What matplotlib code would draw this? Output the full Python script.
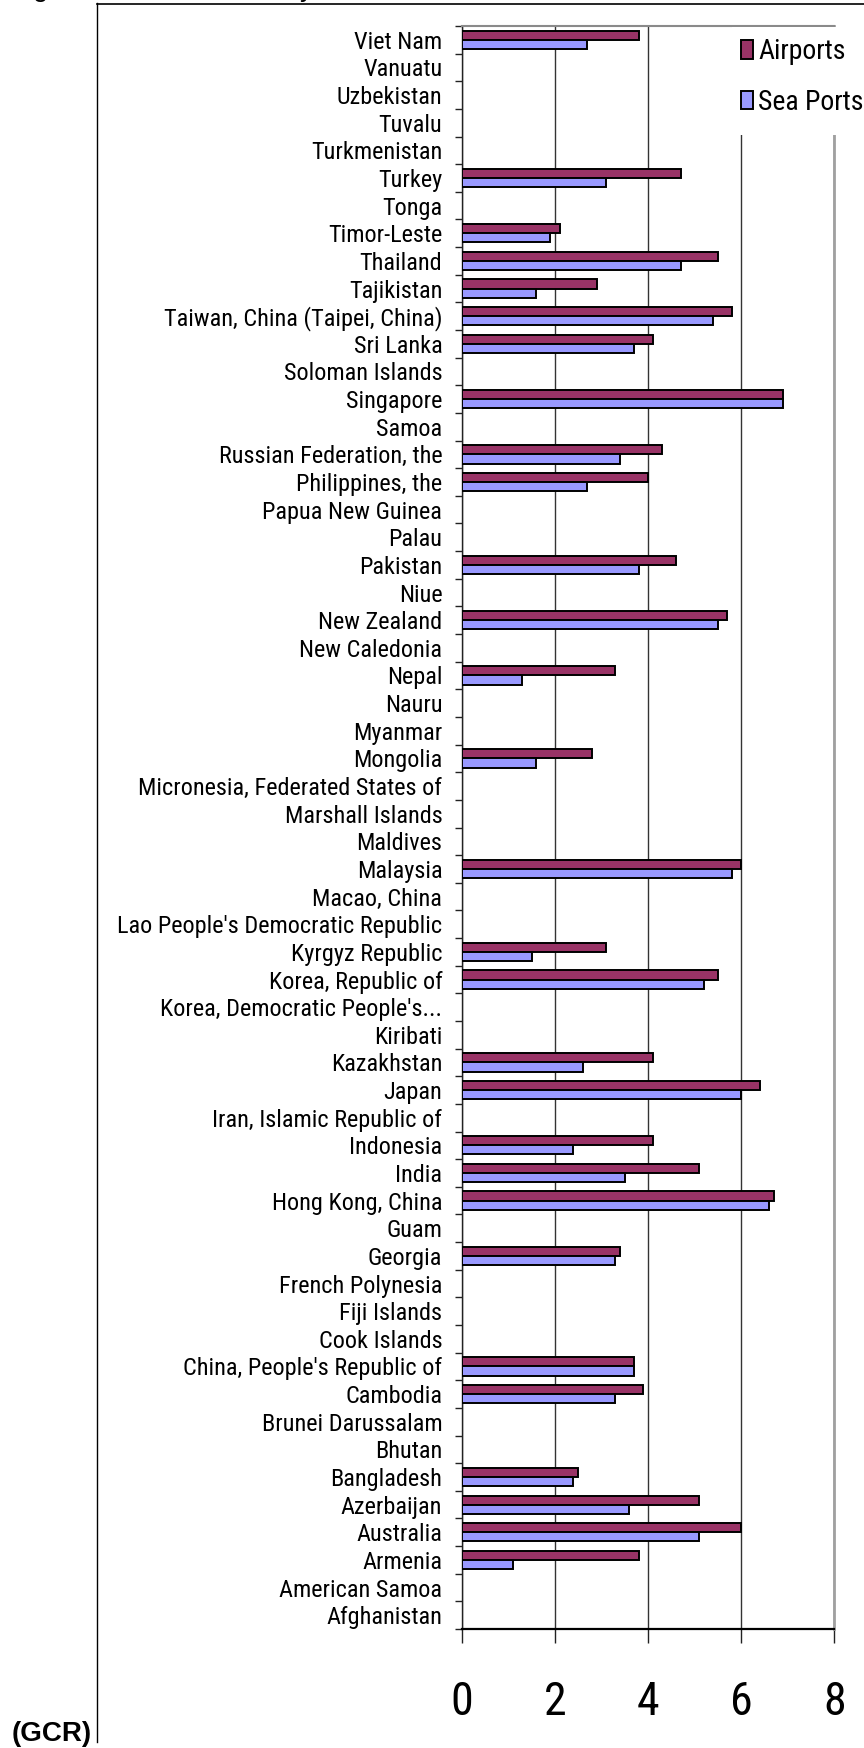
import matplotlib
matplotlib.use("Agg")
import matplotlib.pyplot as plt
import numpy as np
from matplotlib import font_manager as fm
from matplotlib.patches import Rectangle
from matplotlib.lines import Line2D

countries = [
    "Viet Nam", "Vanuatu", "Uzbekistan", "Tuvalu", "Turkmenistan", "Turkey", "Tonga",
    "Timor-Leste", "Thailand", "Tajikistan", "Taiwan, China (Taipei, China)", "Sri Lanka",
    "Soloman Islands", "Singapore", "Samoa", "Russian Federation, the", "Philippines, the",
    "Papua New Guinea", "Palau", "Pakistan", "Niue", "New Zealand", "New Caledonia", "Nepal",
    "Nauru", "Myanmar", "Mongolia", "Micronesia, Federated States of", "Marshall Islands",
    "Maldives", "Malaysia", "Macao, China", "Lao People's Democratic Republic",
    "Kyrgyz Republic", "Korea, Republic of", "Korea, Democratic People's...", "Kiribati",
    "Kazakhstan", "Japan", "Iran, Islamic Republic of", "Indonesia", "India",
    "Hong Kong, China", "Guam", "Georgia", "French Polynesia", "Fiji Islands", "Cook Islands",
    "China, People's Republic of", "Cambodia", "Brunei Darussalam", "Bhutan", "Bangladesh",
    "Azerbaijan", "Australia", "Armenia", "American Samoa", "Afghanistan",
]
nan = np.nan
airports = [
    3.8, nan, nan, nan, nan, 4.7, nan,
    2.1, 5.5, 2.9, 5.8, 4.1,
    nan, 6.9, nan, 4.3, 4.0,
    nan, nan, 4.6, nan, 5.7, nan, 3.3,
    nan, nan, 2.8, nan, nan,
    nan, 6.0, nan, nan,
    3.1, 5.5, nan, nan,
    4.1, 6.4, nan, 4.1, 5.1,
    6.7, nan, 3.4, nan, nan, nan,
    3.7, 3.9, nan, nan, 2.5,
    5.1, 6.0, 3.8, nan, nan,
]
sea_ports = [
    2.7, nan, nan, nan, nan, 3.1, nan,
    1.9, 4.7, 1.6, 5.4, 3.7,
    nan, 6.9, nan, 3.4, 2.7,
    nan, nan, 3.8, nan, 5.5, nan, 1.3,
    nan, nan, 1.6, nan, nan,
    nan, 5.8, nan, nan,
    1.5, 5.2, nan, nan,
    2.6, 6.0, nan, 2.4, 3.5,
    6.6, nan, 3.3, nan, nan, nan,
    3.7, 3.3, nan, nan, 2.4,
    3.6, 5.1, 1.1, nan, nan,
]
series_names = ["Airports", "Sea Ports"]
x_ticks = [0, 2, 4, 6, 8]

names = {f.name for f in fm.fontManager.ttflist}
cands = ["Liberation Sans Narrow", "Arial Narrow", "Nimbus Sans Narrow", "Roboto Condensed",
         "PT Sans Narrow", "Archivo Narrow"]
narrow = next((n for n in cands if n in names), None)
if narrow:
    FONT = dict(family=narrow)
else:
    FONT = dict(family="DejaVu Sans", stretch="condensed")

W, H = 864, 1748
fig = plt.figure(figsize=(W / 100, H / 100), dpi=100)
L, R, T, B = 461.7, 834.3, 26.0, 1629.0
ax = fig.add_axes([L / W, 1 - B / H, (R - L) / W, (B - T) / H])

n = len(countries)
y = np.arange(n)
h = 0.33
ax.barh(y - h / 2, airports, height=h, color="#993366", edgecolor="black", linewidth=1.4,
        label=series_names[0], zorder=3)
ax.barh(y + h / 2, sea_ports, height=h, color="#9999FF", edgecolor="black", linewidth=1.4,
        label=series_names[1], zorder=3)

ax.set_ylim(n - 0.5, -0.5)
ax.set_xlim(0, 8)
ax.set_yticks(y)
ax.set_yticklabels(countries)
ax.set_yticks(np.arange(-0.5, n, 1.0), minor=True)
ax.tick_params(axis="y", which="major", length=0, pad=14)
ax.tick_params(axis="y", which="minor", length=5, width=1, direction="out", color="#222222")
ax.set_xticks(x_ticks)
ax.tick_params(axis="x", which="major", length=10, width=1, pad=27, color="#222222")
for lab in ax.get_yticklabels():
    lab.set_fontproperties(fm.FontProperties(size=17.5, **FONT))
for lab in ax.get_xticklabels():
    lab.set_fontproperties(fm.FontProperties(size=33, **FONT))

ax.grid(axis="x", color="#333333", linewidth=1, zorder=0)
ax.set_axisbelow(True)
ax.spines["left"].set_color("#222222")
ax.spines["left"].set_linewidth(1)
ax.spines["bottom"].set_color("black")
ax.spines["bottom"].set_linewidth(1.6)
ax.spines["top"].set_color("#8a8a8a")
ax.spines["top"].set_linewidth(1.5)
ax.spines["right"].set_color("#a0a0a0")
ax.spines["right"].set_linewidth(2)

# white legend area covering gridline and right spine
fig.patches.append(Rectangle((732 / W, 1 - 135 / H), (W - 732) / W, (135 - 27.5) / H,
                             transform=fig.transFigure, facecolor="white", edgecolor="none",
                             zorder=2))
leg = fig.legend(loc="upper left", bbox_to_anchor=(741 / W, 1 - 38 / H),
                 prop=fm.FontProperties(size=20, **FONT), frameon=False,
                 handlelength=0.43, handleheight=0.65, handletextpad=0.2,
                 labelspacing=0.85, borderpad=0, borderaxespad=0)
leg.set_zorder(5)

# outer chart frame
fig.add_artist(Line2D([96.5 / W, 96.5 / W], [1 - 3 / H, 1 - 1742 / H], color="black",
                      linewidth=1, transform=fig.transFigure))
fig.add_artist(Line2D([96.5 / W, 1.0], [1 - 3.5 / H, 1 - 3.5 / H], color="black",
                      linewidth=1.2, transform=fig.transFigure))

fig.text(12 / W, 7 / H, "(GCR)", fontsize=20, fontweight="bold", family="Liberation Sans",
         ha="left", va="baseline")
fig.text(33 / W, 1 + 4 / H, "g", fontsize=20, family="Liberation Sans", ha="left", va="baseline")
fig.text(300 / W, 1 + 4 / H, "y", fontsize=20, family="Liberation Sans", ha="left", va="baseline")

fig.savefig("out.png", dpi=100)
